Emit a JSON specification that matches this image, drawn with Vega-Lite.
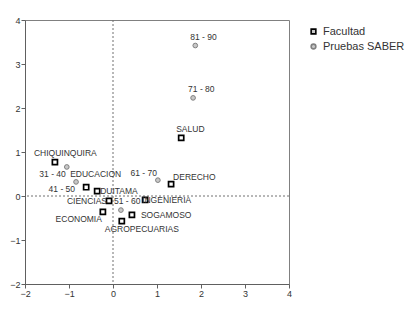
{
  "$schema": "https://vega.github.io/schema/vega-lite/v6.json",
  "width": 264,
  "height": 264,
  "autosize": "none",
  "padding": {"left": 25, "top": 20, "right": 121, "bottom": 33},
  "background": "white",
  "config": {
    "view": {"stroke": "#808080", "strokeWidth": 1},
    "font": "Liberation Sans",
    "axis": {"domainColor": "#606060", "tickColor": "#606060", "labelColor": "#333333", "labelFontSize": 9, "grid": false, "title": null, "labelFont": "Liberation Sans"}
  },
  "data": {
    "values": [
      {"name": "CHIQUINQUIRA", "tipo": "Facultad", "d1": -1.32, "d2": 0.77},
      {"name": "EDUCACION", "tipo": "Facultad", "d1": -0.61, "d2": 0.2},
      {"name": "DUITAMA", "tipo": "Facultad", "d1": -0.36, "d2": 0.11},
      {"name": "CIENCIAS", "tipo": "Facultad", "d1": -0.09, "d2": -0.11},
      {"name": "INGENIERIA", "tipo": "Facultad", "d1": 0.73, "d2": -0.09},
      {"name": "ECONOMIA", "tipo": "Facultad", "d1": -0.23, "d2": -0.36},
      {"name": "SOGAMOSO", "tipo": "Facultad", "d1": 0.43, "d2": -0.43},
      {"name": "AGROPECUARIAS", "tipo": "Facultad", "d1": 0.2, "d2": -0.57},
      {"name": "DERECHO", "tipo": "Facultad", "d1": 1.32, "d2": 0.27},
      {"name": "SALUD", "tipo": "Facultad", "d1": 1.55, "d2": 1.32},
      {"name": "31 - 40", "tipo": "Pruebas SABER", "d1": -1.05, "d2": 0.66},
      {"name": "41 - 50", "tipo": "Pruebas SABER", "d1": -0.84, "d2": 0.32},
      {"name": "51 - 60", "tipo": "Pruebas SABER", "d1": 0.18, "d2": -0.32},
      {"name": "61 - 70", "tipo": "Pruebas SABER", "d1": 1.02, "d2": 0.36},
      {"name": "71 - 80", "tipo": "Pruebas SABER", "d1": 1.82, "d2": 2.23},
      {"name": "81 - 90", "tipo": "Pruebas SABER", "d1": 1.87, "d2": 3.42}
    ]
  },
  "encoding": {
    "x": {"field": "d1", "type": "quantitative", "scale": {"domain": [-2, 4], "nice": false, "zero": false},
      "axis": {"values": [-2, -1, 0, 1, 2, 3, 4], "tickSize": 4, "labelPadding": 1, "labelFlush": false}},
    "y": {"field": "d2", "type": "quantitative", "scale": {"domain": [-2, 4], "nice": false, "zero": false},
      "axis": {"values": [-2, -1, 0, 1, 2, 3, 4], "tickSize": 4, "labelPadding": 1, "labelFlush": false}}
  },
  "layer": [
    {"data": {"values": [{"v": 0}]}, "mark": {"type": "rule", "color": "#707070", "strokeDash": [2, 2], "strokeWidth": 1}, "encoding": {"x": {"field": "v", "type": "quantitative"}, "y": null}},
    {"data": {"values": [{"v": 0}]}, "mark": {"type": "rule", "color": "#707070", "strokeDash": [2, 2], "strokeWidth": 1}, "encoding": {"y": {"field": "v", "type": "quantitative"}, "x": null}},
    {
      "mark": {"type": "point", "filled": false, "opacity": 1},
      "encoding": {
        "shape": {"field": "tipo", "type": "nominal", "scale": {"domain": ["Facultad", "Pruebas SABER"], "range": ["square", "circle"]},
          "legend": {"title": null, "orient": "none", "legendX": 283, "legendY": 6, "labelFontSize": 11, "labelColor": "#333333", "symbolStrokeWidth": 1.6, "symbolSize": 22, "rowPadding": 2, "labelOffset": 4, "labelFont": "Liberation Sans"}},
        "color": {"field": "tipo", "type": "nominal", "scale": {"domain": ["Facultad", "Pruebas SABER"], "range": ["#000000", "#808080"]}},
        "fill": {"condition": {"test": "datum.tipo == 'Facultad'", "value": "#ffffff"}, "value": "#c8c8c8"},
        "size": {"condition": {"test": "datum.tipo == 'Facultad'", "value": 26}, "value": 22},
        "strokeWidth": {"condition": {"test": "datum.tipo == 'Facultad'", "value": 1.7}, "value": 1}
      }
    },
    {"transform": [{"filter": "indexof(['81 - 90','71 - 80','SALUD'], datum.name) >= 0"}], "mark": {"type": "text", "align": "left", "baseline": "middle", "dx": -5, "dy": -9, "fontSize": 8.5, "color": "#333333"}, "encoding": {"text": {"field": "name"}}},
    {"transform": [{"filter": "datum.name == 'DERECHO'"}], "mark": {"type": "text", "align": "left", "baseline": "middle", "dx": 2, "dy": -7, "fontSize": 8.5, "color": "#333333"}, "encoding": {"text": {"field": "name"}}},
    {"transform": [{"filter": "datum.name == '61 - 70'"}], "mark": {"type": "text", "align": "right", "baseline": "middle", "dx": -1, "dy": -7, "fontSize": 8.5, "color": "#333333"}, "encoding": {"text": {"field": "name"}}},
    {"transform": [{"filter": "datum.name == 'CHIQUINQUIRA'"}], "mark": {"type": "text", "align": "left", "baseline": "middle", "dx": -21, "dy": -9, "fontSize": 8.5, "color": "#333333"}, "encoding": {"text": {"field": "name"}}},
    {"transform": [{"filter": "indexof(['31 - 40','41 - 50','ECONOMIA'], datum.name) >= 0"}], "mark": {"type": "text", "align": "right", "baseline": "middle", "dx": -1, "dy": 7, "fontSize": 8.5, "color": "#333333"}, "encoding": {"text": {"field": "name"}}},
    {"transform": [{"filter": "datum.name == 'EDUCACION'"}], "mark": {"type": "text", "align": "left", "baseline": "middle", "dx": -16, "dy": -13, "fontSize": 8.5, "color": "#333333"}, "encoding": {"text": {"field": "name"}}},
    {"transform": [{"filter": "datum.name == 'DUITAMA'"}], "mark": {"type": "text", "align": "left", "baseline": "middle", "dx": 3, "dy": 0, "fontSize": 8.5, "color": "#333333"}, "encoding": {"text": {"field": "name"}}},
    {"transform": [{"filter": "datum.name == 'INGENIERIA'"}], "mark": {"type": "text", "align": "left", "baseline": "middle", "dx": -3, "dy": 0, "fontSize": 8.5, "color": "#333333"}, "encoding": {"text": {"field": "name"}}},
    {"transform": [{"filter": "datum.name == 'SOGAMOSO'"}], "mark": {"type": "text", "align": "left", "baseline": "middle", "dx": 9, "dy": 0, "fontSize": 8.5, "color": "#333333"}, "encoding": {"text": {"field": "name"}}},
    {"transform": [{"filter": "datum.name == 'CIENCIAS'"}], "mark": {"type": "text", "align": "right", "baseline": "middle", "dx": -2, "dy": 0, "fontSize": 8.5, "color": "#333333"}, "encoding": {"text": {"field": "name"}}},
    {"transform": [{"filter": "datum.name == '51 - 60'"}], "mark": {"type": "text", "align": "left", "baseline": "middle", "dx": -7, "dy": -9, "fontSize": 8.5, "color": "#333333"}, "encoding": {"text": {"field": "name"}}},
    {"transform": [{"filter": "datum.name == 'AGROPECUARIAS'"}], "mark": {"type": "text", "align": "left", "baseline": "middle", "dx": -17, "dy": 8, "fontSize": 8.5, "color": "#333333"}, "encoding": {"text": {"field": "name"}}}
  ]
}
